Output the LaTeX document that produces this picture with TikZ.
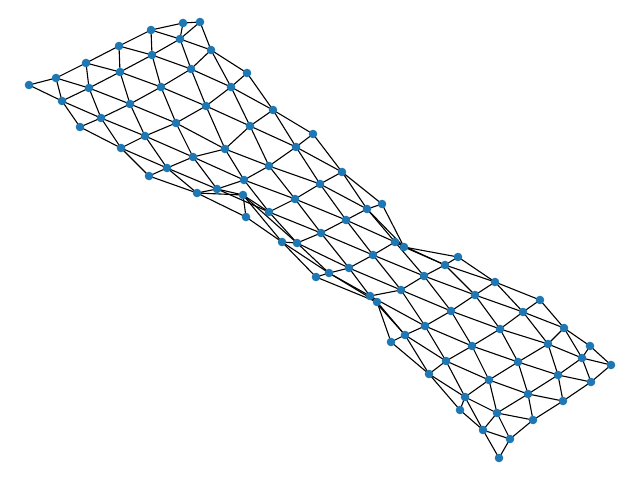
\documentclass[tikz,border=0pt]{standalone}
\usetikzlibrary{backgrounds}
\definecolor{nodeblue}{HTML}{1F77B4}
\tikzset{
  dot/.style={circle,fill=nodeblue,draw=none,inner sep=0pt,outer sep=0pt,minimum size=8.6pt},
  link/.style={draw=black,line width=1.1pt}
}
\begin{document}
\begin{tikzpicture}[x=1pt,y=-1pt]
\useasboundingbox (0,0) rectangle (640,480);
% row 0
\node[dot] (v0-0) at (29,85) {};
\node[dot] (v1-0) at (56,78) {};
\node[dot] (v2-0) at (86,63) {};
\node[dot] (v3-0) at (119,46) {};
\node[dot] (v4-0) at (151,30) {};
\node[dot] (v5-0) at (183,23) {};
% row 1
\node[dot] (v0-1) at (62,101) {};
\node[dot] (v1-1) at (89,88) {};
\node[dot] (v2-1) at (120,72) {};
\node[dot] (v3-1) at (152,55) {};
\node[dot] (v4-1) at (180,39) {};
\node[dot] (v5-1) at (200,22) {};
% row 2
\node[dot] (v0-2) at (80,127) {};
\node[dot] (v1-2) at (101,118) {};
\node[dot] (v2-2) at (130,104) {};
\node[dot] (v3-2) at (161,87) {};
\node[dot] (v4-2) at (191,69) {};
\node[dot] (v5-2) at (211,50) {};
% row 3
\node[dot] (v0-3) at (121,148) {};
\node[dot] (v1-3) at (145,136) {};
\node[dot] (v2-3) at (176,123) {};
\node[dot] (v3-3) at (206,106) {};
\node[dot] (v4-3) at (231,87) {};
\node[dot] (v5-3) at (247,73) {};
% row 4
\node[dot] (v0-4) at (149,176) {};
\node[dot] (v1-4) at (167,168) {};
\node[dot] (v2-4) at (193,157) {};
\node[dot] (v3-4) at (225,149) {};
\node[dot] (v4-4) at (250,126) {};
\node[dot] (v5-4) at (273,110) {};
% row 5
\node[dot] (v0-5) at (197,193) {};
\node[dot] (v1-5) at (217,189) {};
\node[dot] (v2-5) at (244,180) {};
\node[dot] (v3-5) at (269,166) {};
\node[dot] (v4-5) at (296,147) {};
\node[dot] (v5-5) at (313,134) {};
% row 6
\node[dot] (v0-6) at (246,217) {};
\node[dot] (v1-6) at (243,195) {};
\node[dot] (v2-6) at (269,212) {};
\node[dot] (v3-6) at (295,199) {};
\node[dot] (v4-6) at (320,184) {};
\node[dot] (v5-6) at (342,172) {};
% row 7
\node[dot] (v0-7) at (282,242) {};
\node[dot] (v1-7) at (297,243) {};
\node[dot] (v2-7) at (321,233) {};
\node[dot] (v3-7) at (346,220) {};
\node[dot] (v4-7) at (367,209) {};
\node[dot] (v5-7) at (382,204) {};
% row 8
\node[dot] (v0-8) at (316,277) {};
\node[dot] (v1-8) at (329,273) {};
\node[dot] (v2-8) at (349,268) {};
\node[dot] (v3-8) at (373,255) {};
\node[dot] (v4-8) at (395,242) {};
\node[dot] (v5-8) at (404,247) {};
% row 9
\node[dot] (v0-9) at (377,302) {};
\node[dot] (v1-9) at (370,296) {};
\node[dot] (v2-9) at (401,290) {};
\node[dot] (v3-9) at (424,276) {};
\node[dot] (v4-9) at (445,265) {};
\node[dot] (v5-9) at (458,257) {};
% row 10
\node[dot] (v0-10) at (391,342) {};
\node[dot] (v1-10) at (405,335) {};
\node[dot] (v2-10) at (425,326) {};
\node[dot] (v3-10) at (451,311) {};
\node[dot] (v4-10) at (475,295) {};
\node[dot] (v5-10) at (495,282) {};
% row 11
\node[dot] (v0-11) at (429,374) {};
\node[dot] (v1-11) at (446,361) {};
\node[dot] (v2-11) at (472,346) {};
\node[dot] (v3-11) at (500,329) {};
\node[dot] (v4-11) at (523,312) {};
\node[dot] (v5-11) at (540,300) {};
% row 12
\node[dot] (v0-12) at (460,410) {};
\node[dot] (v1-12) at (465,397) {};
\node[dot] (v2-12) at (489,380) {};
\node[dot] (v3-12) at (518,362) {};
\node[dot] (v4-12) at (548,344) {};
\node[dot] (v5-12) at (564,328) {};
% row 13
\node[dot] (v0-13) at (483,430) {};
\node[dot] (v1-13) at (497,413) {};
\node[dot] (v2-13) at (528,394) {};
\node[dot] (v3-13) at (558,375) {};
\node[dot] (v4-13) at (582,358) {};
\node[dot] (v5-13) at (590,346) {};
% row 14
\node[dot] (v0-14) at (499,458) {};
\node[dot] (v1-14) at (510,439) {};
\node[dot] (v2-14) at (533,420) {};
\node[dot] (v3-14) at (563,401) {};
\node[dot] (v4-14) at (591,382) {};
\node[dot] (v5-14) at (611,365) {};
\begin{scope}[on background layer]
% edges along each row
\foreach \j in {0,...,14}{
  \foreach \i in {0,...,4}{
    \pgfmathtruncatemacro\ii{\i+1}
    \draw[link] (v\i-\j.center) -- (v\ii-\j.center);
  }
}
% edges between consecutive rows, same column
\foreach \j in {0,...,13}{
  \pgfmathtruncatemacro\jj{\j+1}
  \foreach \i in {0,...,5}{
    \draw[link] (v\i-\j.center) -- (v\i-\jj.center);
  }
}
% diagonals
\foreach \j in {1,3,...,13}{
  \pgfmathtruncatemacro\jj{\j+1}
  \foreach \i in {0,...,4}{
    \pgfmathtruncatemacro\ii{\i+1}
    \draw[link] (v\i-\j.center) -- (v\ii-\jj.center);
  }
}
\foreach \j in {0,2,...,12}{
  \pgfmathtruncatemacro\jj{\j+1}
  \foreach \i in {0,...,4}{
    \pgfmathtruncatemacro\ii{\i+1}
    \draw[link] (v\ii-\j.center) -- (v\i-\jj.center);
  }
}
\end{scope}
\end{tikzpicture}
\end{document}
